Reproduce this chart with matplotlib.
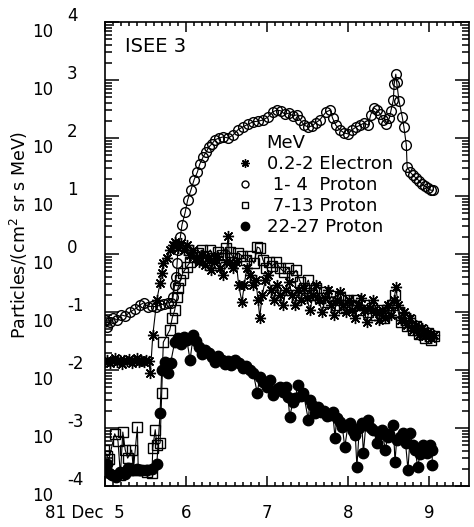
import matplotlib
matplotlib.use("Agg")
import matplotlib.pyplot as plt
from matplotlib.lines import Line2D
from matplotlib.ticker import MultipleLocator, LogLocator, NullFormatter
import numpy as np

plt.rcParams['font.family'] = ['DejaVu Sans']

# ISEE 3, 81 Dec 5-9 ; values are log10 of flux, time in days of December
# 0.2-2 MeV electrons
e_day = [5.00, 5.03, 5.06, 5.09, 5.12, 5.15, 5.18, 5.21, 5.24, 5.27, 5.30, 5.33, 5.36, 5.39, 5.42,
         5.45, 5.48, 5.51, 5.54, 5.56, 5.59, 5.64, 5.68, 5.70, 5.72, 5.77, 5.80, 5.84, 5.86, 5.90,
         5.94, 5.98, 6.01, 6.05, 6.09, 6.12, 6.16, 6.20, 6.23, 6.27, 6.31, 6.35, 6.38, 6.42, 6.46,
         6.49, 6.52, 6.54, 6.58, 6.62, 6.65, 6.69, 6.72, 6.75, 6.79, 6.83, 6.86, 6.89, 6.91, 6.94,
         6.98, 7.01, 7.05, 7.09, 7.12, 7.16, 7.20, 7.23, 7.27, 7.31, 7.35, 7.38, 7.42, 7.46, 7.49,
         7.53, 7.57, 7.60, 7.64, 7.68, 7.72, 7.75, 7.79, 7.83, 7.86, 7.90, 7.94, 7.98, 8.01, 8.05,
         8.09, 8.12, 8.16, 8.20, 8.23, 8.27, 8.31, 8.35, 8.38, 8.42, 8.46, 8.49, 8.53, 8.57, 8.59,
         8.62, 8.65, 8.69, 8.73, 8.77, 8.80, 8.84, 8.88, 8.91, 8.95, 8.99, 9.02, 9.06]
e_log = [-1.86, -1.82, -1.88, -1.84, -1.80, -1.86, -1.83, -1.89, -1.82, -1.85, -1.81, -1.88, -1.84, -1.79, -1.86,
         -1.83, -1.87, -1.82, -1.85, -2.05, -1.40, -0.79, -0.50, -0.33, -0.16, -0.07, 0.07, 0.16, 0.21, 0.10,
         0.19, 0.07, 0.16, -0.02, 0.07, -0.07, -0.14, -0.02, -0.19, -0.07, -0.28, -0.14, -0.03, -0.24, -0.36,
         -0.14, 0.31, -0.14, -0.24, -0.14, -0.53, -0.83, -0.53, -0.24, -0.36, -0.53, -0.45, -0.79, -1.10, -0.71,
         -0.45, -0.36, -0.62, -0.79, -0.53, -0.71, -0.88, -0.62, -0.48, -0.71, -0.88, -0.62, -0.79, -0.59, -0.76,
         -0.97, -0.71, -0.53, -0.79, -1.00, -0.76, -0.62, -0.88, -1.05, -0.79, -0.66, -0.88, -1.00, -0.79, -0.97,
         -1.10, -0.88, -0.76, -0.97, -1.17, -0.93, -0.79, -1.00, -1.14, -0.97, -1.10, -0.88, -1.05, -0.79, -0.57,
         -0.88, -1.14, -1.00, -1.22, -1.10, -1.31, -1.22, -1.40, -1.28, -1.41, -1.34, -1.45, -1.40]

# 1-4 MeV protons
p1_day = [5.00, 5.02, 5.06, 5.10, 5.15, 5.20, 5.25, 5.31, 5.37, 5.43, 5.48, 5.53, 5.58, 5.63, 5.68,
          5.73, 5.78, 5.81, 5.84, 5.86, 5.88, 5.89, 5.90, 5.93, 5.95, 5.99, 6.02, 6.06, 6.10, 6.14,
          6.17, 6.21, 6.25, 6.28, 6.32, 6.36, 6.41, 6.46, 6.52, 6.58, 6.64, 6.70, 6.77, 6.83, 6.89,
          6.95, 7.01, 7.07, 7.12, 7.17, 7.22, 7.27, 7.32, 7.37, 7.41, 7.46, 7.51, 7.56, 7.60, 7.65,
          7.73, 7.78, 7.81, 7.85, 7.90, 7.95, 8.00, 8.05, 8.10, 8.15, 8.20, 8.25, 8.28, 8.32, 8.36,
          8.40, 8.43, 8.47, 8.51, 8.53, 8.56, 8.57, 8.59, 8.60, 8.63, 8.67, 8.69, 8.72, 8.73, 8.77,
          8.80, 8.84, 8.88, 8.91, 8.95, 8.99, 9.02, 9.05]
p1_log = [-1.14, -1.26, -1.17, -1.10, -1.14, -1.05, -1.07, -1.00, -0.95, -0.88, -0.84, -0.91, -0.90, -0.91, -0.88,
          -0.86, -0.84, -0.84, -0.74, -0.53, -0.40, -0.16, 0.07, 0.29, 0.50, 0.72, 0.93, 1.10, 1.28, 1.41,
          1.55, 1.67, 1.76, 1.84, 1.90, 1.97, 2.00, 2.02, 2.00, 2.05, 2.14, 2.19, 2.24, 2.28, 2.29,
          2.31, 2.36, 2.45, 2.48, 2.47, 2.41, 2.43, 2.38, 2.40, 2.31, 2.22, 2.19, 2.21, 2.26, 2.31,
          2.45, 2.48, 2.34, 2.22, 2.14, 2.09, 2.07, 2.14, 2.19, 2.22, 2.26, 2.22, 2.40, 2.52, 2.48,
          2.41, 2.31, 2.24, 2.34, 2.47, 2.66, 2.93, 3.10, 2.97, 2.64, 2.36, 2.19, 1.88, 1.50, 1.41,
          1.36, 1.31, 1.26, 1.21, 1.17, 1.14, 1.10, 1.10]

# 7-13 MeV protons
p7_day = [4.99, 5.02, 5.05, 5.12, 5.16, 5.19, 5.22, 5.25, 5.28, 5.33, 5.35, 5.40, 5.41, 5.47, 5.52,
          5.58, 5.59, 5.62, 5.64, 5.68, 5.70, 5.72, 5.80, 5.83, 5.86, 5.89, 5.90, 5.93, 5.96, 6.01,
          6.05, 6.10, 6.15, 6.20, 6.25, 6.30, 6.35, 6.40, 6.44, 6.49, 6.54, 6.59, 6.64, 6.69, 6.74,
          6.79, 6.84, 6.88, 6.91, 6.95, 6.99, 7.02, 7.06, 7.11, 7.16, 7.21, 7.26, 7.31, 7.36, 7.41,
          7.46, 7.51, 7.56, 7.60, 7.65, 7.70, 7.75, 7.80, 7.85, 7.90, 7.95, 8.00, 8.05, 8.10, 8.15,
          8.20, 8.25, 8.30, 8.35, 8.40, 8.44, 8.49, 8.54, 8.58, 8.62, 8.65, 8.69, 8.73, 8.77, 8.80,
          8.84, 8.88, 8.91, 8.95, 8.99, 9.02, 9.06]
p7_log = [-3.38, -3.48, -3.53, -3.10, -3.22, -3.81, -3.07, -3.38, -3.52, -3.38, -3.72, -2.98, -3.72, -3.72, -3.75,
          -3.78, -3.34, -3.03, -3.29, -3.26, -2.40, -1.52, -1.31, -1.10, -0.97, -0.74, -0.59, -0.45, -0.33, -0.22,
          -0.14, -0.05, 0.02, 0.07, -0.03, 0.07, -0.07, 0.03, -0.02, 0.10, 0.03, -0.07, 0.02, -0.03, -0.10,
          -0.03, -0.16, 0.12, 0.10, -0.10, -0.24, -0.14, -0.21, -0.14, -0.24, -0.31, -0.24, -0.38, -0.28, -0.48,
          -0.59, -0.45, -0.71, -0.59, -0.76, -0.66, -0.83, -0.72, -0.88, -0.76, -0.93, -0.79, -0.90, -0.79, -0.97,
          -0.88, -1.00, -0.93, -1.05, -0.97, -1.10, -1.00, -0.88, -0.71, -1.00, -1.17, -1.10, -1.24, -1.14, -1.31,
          -1.24, -1.38, -1.31, -1.45, -1.36, -1.48, -1.41]

# 22-27 MeV protons
p22_day = [5.02, 5.05, 5.09, 5.14, 5.19, 5.25, 5.28, 5.33, 5.40, 5.43, 5.52, 5.58, 5.64, 5.68, 5.70,
           5.74, 5.78, 5.81, 5.86, 5.90, 5.94, 5.98, 6.01, 6.05, 6.09, 6.12, 6.16, 6.20, 6.24, 6.28,
           6.32, 6.36, 6.40, 6.44, 6.48, 6.52, 6.56, 6.60, 6.65, 6.70, 6.74, 6.79, 6.83, 6.88, 6.91,
           6.95, 7.00, 7.04, 7.07, 7.12, 7.16, 7.20, 7.23, 7.26, 7.28, 7.32, 7.35, 7.38, 7.42, 7.45,
           7.51, 7.53, 7.56, 7.59, 7.63, 7.67, 7.70, 7.74, 7.78, 7.81, 7.84, 7.86, 7.90, 7.93, 7.96,
           8.00, 8.02, 8.06, 8.09, 8.11, 8.14, 8.17, 8.19, 8.22, 8.25, 8.28, 8.31, 8.36, 8.39, 8.42,
           8.46, 8.49, 8.51, 8.56, 8.58, 8.60, 8.64, 8.68, 8.71, 8.74, 8.77, 8.80, 8.83, 8.86, 8.89,
           8.92, 8.98, 9.01, 9.04, 9.04]
p22_log = [-3.62, -3.78, -3.81, -3.84, -3.76, -3.79, -3.69, -3.72, -3.71, -3.72, -3.72, -3.71, -3.62, -2.74, -2.00,
           -1.86, -2.05, -1.88, -1.52, -1.45, -1.55, -1.43, -1.48, -1.83, -1.40, -1.50, -1.60, -1.72, -1.65, -1.70,
           -1.78, -1.86, -1.75, -1.82, -1.90, -1.85, -1.92, -1.83, -1.88, -1.96, -1.93, -2.00, -2.05, -2.40, -2.12,
           -2.21, -2.29, -2.18, -2.43, -2.33, -2.29, -2.38, -2.30, -2.47, -2.81, -2.55, -2.48, -2.26, -2.45, -2.40,
           -2.86, -2.52, -2.60, -2.74, -2.64, -2.72, -2.70, -2.80, -2.78, -2.72, -3.17, -2.83, -2.90, -2.98, -3.33,
           -2.95, -2.91, -3.05, -3.12, -3.67, -3.00, -2.91, -3.43, -2.95, -2.86, -3.00, -3.03, -3.26, -3.10, -3.03,
           -3.38, -3.15, -3.10, -2.95, -3.59, -3.21, -3.15, -3.09, -3.25, -3.72, -3.09, -3.30, -3.38, -3.67, -3.45,
           -3.30, -3.43, -3.30, -3.38, -3.64]

legend_labels = ["MeV", "0.2-2 Electron", " 1- 4  Proton", " 7-13 Proton", "22-27 Proton"]
x_ticks = [5, 6, 7, 8, 9]
x_ticklabels = ["81 Dec  5", "6", "7", "8", "9"]
y_exponents = [-4, -3, -2, -1, 0, 1, 2, 3, 4]

fig = plt.figure(figsize=(4.74, 5.27), dpi=100)
ax = fig.add_axes([105/474, 1 - 486/527, 364/474, 464/527])

star = (8, 2, 0)
ax.plot(p22_day, 10**np.array(p22_log), '-o', color='k', ms=7.5, lw=0.8)
ax.plot(p7_day, 10**np.array(p7_log), '-s', color='k', mfc='none', ms=6.5, mew=1.0, lw=0.8)
ax.plot(e_day, 10**np.array(e_log), '-', marker=star, color='k', ms=8, mew=1.0, lw=0.8)
ax.plot(p1_day, 10**np.array(p1_log), '-o', color='k', mfc='none', ms=7, mew=1.0, lw=0.8)

ax.set_yscale('log')
ax.set_ylim(1e-4, 1e4)
ax.set_xlim(5, 5 + 364/81)

ax.set_xticks(x_ticks)
ax.xaxis.set_minor_locator(MultipleLocator(0.1))
ax.yaxis.set_major_locator(LogLocator(base=10, numticks=20))
ax.yaxis.set_minor_locator(LogLocator(base=10, subs=range(2, 10), numticks=20))
ax.yaxis.set_minor_formatter(NullFormatter())
ax.tick_params(which='both', direction='in', top=True, right=True, width=1.1,
               labelbottom=False, labelleft=False)
ax.tick_params(axis='y', which='major', length=10)
ax.tick_params(axis='y', which='minor', length=5)
ax.tick_params(axis='x', which='major', length=7)
ax.tick_params(axis='x', which='minor', length=3)
for s in ax.spines.values():
    s.set_linewidth(1.2)

# tick labels drawn by hand to get the old-style exponent layout
for k in y_exponents:
    ax.annotate("10", xy=(0, 10.0**k), xycoords=('axes fraction', 'data'),
                xytext=(-52, -15), textcoords='offset pixels', ha='right', va='baseline', fontsize=12)
    ax.annotate(str(k), xy=(0, 10.0**k), xycoords=('axes fraction', 'data'),
                xytext=(-38, 1), textcoords='offset pixels', ha='left', va='baseline', fontsize=12)
for d, lab in zip(x_ticks, x_ticklabels):
    if d == x_ticks[0]:
        ax.annotate(lab, xy=(d, 0), xycoords=('data', 'axes fraction'),
                    xytext=(20, -32), textcoords='offset pixels', ha='right', va='baseline', fontsize=12)
    else:
        ax.annotate(lab, xy=(d, 0), xycoords=('data', 'axes fraction'),
                    xytext=(0, -32), textcoords='offset pixels', ha='center', va='baseline', fontsize=12)

fig.text(19/474, 1 - 235/527, "Particles/(cm$^2$ sr s MeV)", rotation=90,
         ha='center', va='center', fontsize=12.5)
ax.text(0.055, 0.935, "ISEE 3", transform=ax.transAxes, fontsize=14, va='baseline')

handles = [Line2D([], [], ls='none'),
           Line2D([], [], ls='none', marker=star, color='k', ms=6),
           Line2D([], [], ls='none', marker='o', mfc='none', color='k', ms=5),
           Line2D([], [], ls='none', marker='s', mfc='none', color='k', ms=5),
           Line2D([], [], ls='none', marker='o', color='k', ms=6)]
ax.legend(handles, legend_labels, loc='upper left', bbox_to_anchor=(0.36, 0.758),
          frameon=False, fontsize=13, labelspacing=0.16, handlelength=1.0,
          handletextpad=0.7, borderpad=0, borderaxespad=0)

fig.savefig("out.png", dpi=100)
